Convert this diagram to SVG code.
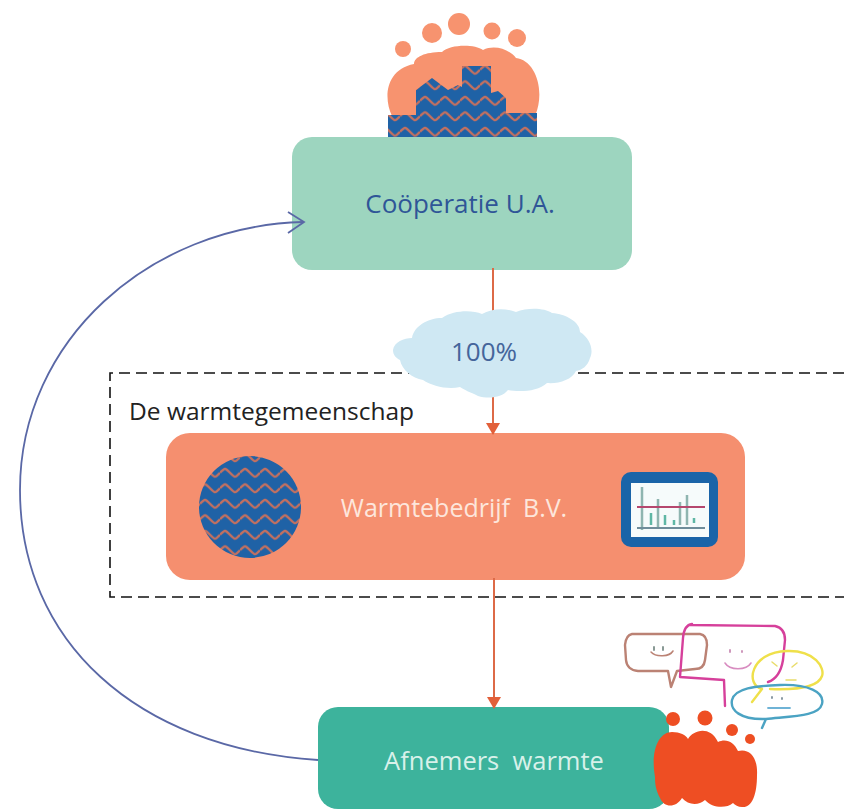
<svg xmlns="http://www.w3.org/2000/svg" width="844" height="810" viewBox="0 0 844 810">
<style>
text{font-family:"Open Sans","Noto Sans","Liberation Sans",sans-serif}
.blue{fill:#2f5597;font-size:26px}
.light{fill:#fde6dc;font-size:25px}
.conn{fill:none;stroke:#dd6a47;stroke-width:2}
.bub{fill:none;stroke-width:2.4;stroke-linejoin:round;stroke-linecap:round}
.wave{fill:url(#waves);stroke:none}
</style>
<defs>
<pattern id="waves" patternUnits="userSpaceOnUse" width="20" height="15.500">
<rect width="20" height="15.500" fill="#1f62a6"/>
<path d="M0,7.750 C5,2.500 5,2.500 10,7.750 C15,13 15,13 20,7.750" fill="none" stroke="#c4705f" stroke-width="2.400"/>
</pattern>
<marker id="ah" markerWidth="14" markerHeight="14" refX="11" refY="7" orient="auto" markerUnits="userSpaceOnUse">
<path d="M0,0 L12,7 L0,14 Z" fill="#e2603a"/>
</marker>
</defs>
<rect width="844" height="810" fill="#fff"/>
<g id="gemeenschap">
<path d="M844,373H110V597H844" fill="none" stroke="#111" stroke-width="1.600" stroke-dasharray="11 6"/>
<text x="129" y="420" font-size="24.500" fill="#222">De warmtegemeenschap</text>
</g>
<g id="cooperatie">
<rect x="292" y="137" width="340" height="133" rx="20" fill="#9dd5bf"/>
<text class="blue" x="460" y="213" text-anchor="middle">Coöperatie U.A.</text>
</g>
<g id="warmtebedrijf">
<rect x="166" y="433" width="579" height="147" rx="24" fill="#f58f6f"/>
<circle class="wave" cx="250" cy="507" r="51"/>
<rect x="621" y="472" width="97" height="75" rx="10" fill="#1a64a8"/>
<rect x="631" y="483" width="78" height="54" fill="#f6fbfb"/>
<path d="M642,487V530M658,499V527M680,502V525M687,495V525" stroke="#8fb5b0" stroke-width="2.500" fill="none"/>
<path d="M651,513V525M665,515V525M674,520V525M694,518V523" stroke="#5fb7a5" stroke-width="2.500" fill="none"/>
<path d="M637,507H705" stroke="#b5476e" stroke-width="1.800" fill="none"/>
<path d="M637,528H705" stroke="#6f8d9a" stroke-width="1.800" fill="none"/>
<text class="light" x="454" y="517" text-anchor="middle" xml:space="preserve">Warmtebedrijf  B.V.</text>
</g>
<g id="afnemers">
<rect x="318" y="707" width="351" height="102" rx="20" fill="#3db39c"/>
<text x="494" y="770" text-anchor="middle" font-size="25.500" fill="#d8f1ea" xml:space="preserve">Afnemers  warmte</text>
</g>
<g id="connectors">
<path class="conn" d="M493,268V320"/>
<path class="conn" d="M493,395V434" marker-end="url(#ah)"/>
<path class="conn" d="M494,578V708" marker-end="url(#ah)"/>
<path d="M318,760C135,748 20,640 20,490C20,340 150,226 303,222" fill="none" stroke="#5a68a6" stroke-width="1.800"/>
<path d="M288,212L304,222L288,233" fill="none" stroke="#5a68a6" stroke-width="1.800"/>
</g>
<g id="cloud">
<path d="M393,350C394,342 404,338 412,338C414,326 428,318 442,318C454,310 472,310 482,314C492,308 506,308 516,312C528,307 545,308 552,313C566,314 580,322 580,332C590,338 594,350 590,358C588,366 582,370 576,371C572,380 558,384 547,383C538,392 518,392 508,390C502,398 488,399 478,396C470,392 464,390 460,387C448,390 432,386 423,380C412,378 402,370 400,360C396,358 393,355 393,350Z" fill="#cfe8f3"/>
<text x="484" y="361" text-anchor="middle" font-size="26" fill="#44659b">100%</text>
</g>
<g id="cooperatie-icon" fill="#f7936f">
<circle cx="403" cy="49" r="8"/>
<circle cx="432" cy="33" r="10"/>
<circle cx="459" cy="24" r="11"/>
<circle cx="492" cy="31" r="8.500"/>
<circle cx="517" cy="38" r="9"/>
<path d="M392,116C384,100 384,70 414,64C414,57 425,52 442,52C450,44 475,44 483,50C495,44 510,50 516,58C535,60 546,90 535,116Z"/>
<path class="wave" d="M388,115H416V90L432,78L448,90L458,85L462,87V66H491V93L498,91L506,98V113H537V137H388Z"/>
</g>
<g id="afnemers-icon" fill="#ee4e23">
<circle cx="673" cy="719" r="7"/>
<circle cx="705" cy="718" r="7.500"/>
<circle cx="732" cy="730" r="6"/>
<circle cx="750" cy="739" r="5"/>
<path d="M655,777C650,748 660,732 672,732C680,732 686,735 688,739C693,730 710,725 718,742C726,738 734,742 738,751C750,748 758,758 757,775C757,795 752,808 742,807C738,807 735,805 733,803C726,809 712,808 705,800C698,806 688,805 682,798C676,808 664,808 660,798C656,790 655,785 655,777Z"/>
</g>
<g id="speech-bubbles">
<path class="bub" stroke="#bb8274" d="M632,634H700Q707,635 707,645L705,660Q704,669 695,669L677,671L671,687L668,671H638Q627,670 626,660L625,645Q626,635 632,634Z"/>
<path class="bub" stroke="#d6409b" d="M690,625L775,626Q785,628 785,640L783,660Q780,678 768,682M680,677L683,638Q684,625 692,624M680,677L724,680L725,706"/>
<path class="bub" stroke="#efe04a" d="M752,702L762,689C745,685 750,652 787,651C815,650 825,668 822,676C818,688 795,690 770,689"/>
<path class="bub" stroke="#4ba3c3" d="M762,728L766,719C740,720 730,710 732,700C735,688 755,686 780,685C808,684 825,692 822,704C819,716 795,716 766,719"/>
<g fill="none" stroke-linecap="round">
<path d="M651,652a12,7 0 0 0 22,-1" stroke="#bb8274" stroke-width="1.500"/>
<path d="M654,647v3M663,647v3" stroke="#7d8f8a" stroke-width="1.800"/>
<path d="M725,663a14,9 0 0 0 26,0" stroke="#d88cc0" stroke-width="1.500"/>
<path d="M730,650v2M742,651v1" stroke="#c98db5" stroke-width="1.800"/>
<path d="M772,662l5,4M797,663l-5,4M786,680h10" stroke="#e8dc6a" stroke-width="1.500"/>
<path d="M768,708h22" stroke="#6fb3d6" stroke-width="1.800"/>
<path d="M772,697v1M782,698v1" stroke="#7d8f9a" stroke-width="1.800"/>
</g>
</g>
</svg>
